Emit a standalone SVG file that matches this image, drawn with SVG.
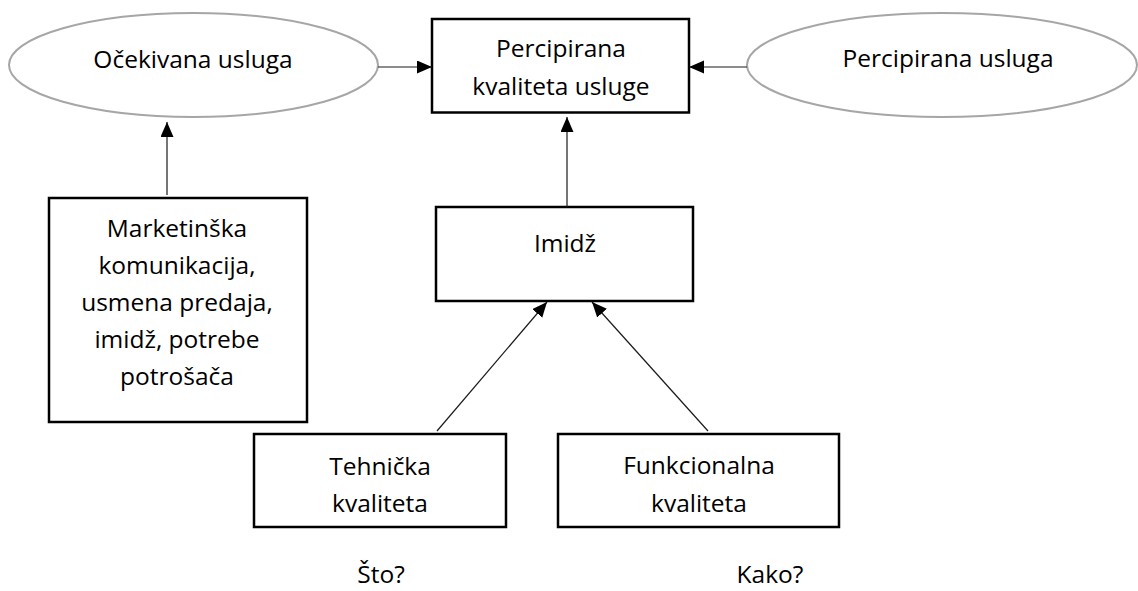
<svg xmlns="http://www.w3.org/2000/svg" width="1138" height="591" viewBox="0 0 1138 591">
<defs>
<style>
.box{fill:#fff;stroke:#000;stroke-width:2.5}
.ell{fill:#fff;stroke:#a6a6a6;stroke-width:2}
.t{font-family:"Open Sans","Liberation Sans",sans-serif;font-size:24.5px;fill:#000;text-anchor:middle}
.c{stroke:#1a1a1a;stroke-width:1.2;fill:none;marker-end:url(#ah)}
</style>
<marker id="ah" markerUnits="userSpaceOnUse" markerWidth="16" markerHeight="14" refX="15" refY="6.5" orient="auto">
<path d="M0,0 L15,6.5 L0,13 z" fill="#000"/>
</marker>
</defs>
<rect width="1138" height="591" fill="#fff"/>
<g id="ocekivana">
<ellipse class="ell" cx="193.5" cy="65" rx="184.5" ry="52"/>
<text class="t" x="193" y="68">Očekivana usluga</text>
</g>
<g id="percipirana-kvaliteta">
<rect class="box" x="432" y="19" width="257" height="93.5"/>
<text class="t" x="561" y="57">Percipirana</text>
<text class="t" x="561" y="95">kvaliteta usluge</text>
</g>
<g id="percipirana-usluga">
<ellipse class="ell" cx="942" cy="65" rx="195" ry="52"/>
<text class="t" x="948" y="67">Percipirana usluga</text>
</g>
<g id="marketing">
<rect class="box" x="49" y="198" width="258" height="224"/>
<text class="t" x="177" y="237">Marketinška</text>
<text class="t" x="177" y="274">komunikacija,</text>
<text class="t" x="177" y="311">usmena predaja,</text>
<text class="t" x="177" y="348">imidž, potrebe</text>
<text class="t" x="177" y="385">potrošača</text>
</g>
<g id="imidz">
<rect class="box" x="436" y="207" width="257" height="94"/>
<text class="t" x="565" y="252">Imidž</text>
</g>
<g id="tehnicka">
<rect class="box" x="254" y="434" width="252" height="93"/>
<text class="t" x="380" y="475">Tehnička</text>
<text class="t" x="380" y="512">kvaliteta</text>
</g>
<g id="funkcionalna">
<rect class="box" x="558" y="434" width="281" height="93"/>
<text class="t" x="699" y="474">Funkcionalna</text>
<text class="t" x="699" y="512">kvaliteta</text>
</g>
<g id="labels">
<text class="t" x="381" y="583">Što?</text>
<text class="t" x="770" y="583">Kako?</text>
</g>
<g id="connectors">
<line class="c" x1="378" y1="67" x2="432" y2="67"/>
<line class="c" x1="747" y1="67" x2="689" y2="67"/>
<line class="c" x1="167" y1="195" x2="167" y2="122"/>
<line class="c" x1="567" y1="207" x2="567" y2="117"/>
<line class="c" x1="437" y1="431" x2="547" y2="302"/>
<line class="c" x1="708" y1="431" x2="592" y2="302"/>
</g>
</svg>
